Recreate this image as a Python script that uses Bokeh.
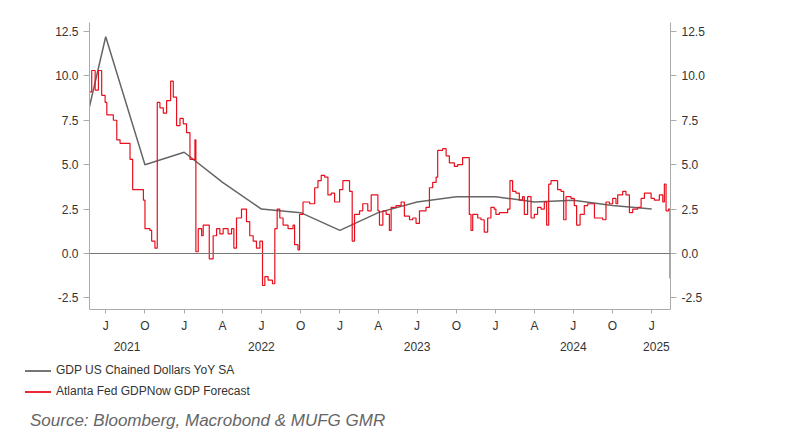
import pandas as pd
from bokeh.plotting import figure
from bokeh.layouts import column
from bokeh.embed import file_html
from bokeh.resources import INLINE
from bokeh.models import (LinearAxis, DatetimeAxis, FixedTicker, Range1d,
                          Span, Div, PrintfTickFormatter)

# GDP US chained dollars YoY SA (quarterly)
gdp_dates = ["2021-04-01", "2021-07-01", "2021-10-01", "2022-01-01", "2022-04-01",
             "2022-07-01", "2022-10-01", "2023-01-01", "2023-04-01", "2023-07-01",
             "2023-10-01", "2024-01-01", "2024-04-01", "2024-07-01", "2024-10-01",
             "2025-01-01"]
gdp_yoy = [2.8, 12.2, 5.0, 5.7, 4.0, 2.5, 2.3, 1.3, 2.3, 2.9, 3.2, 3.2, 2.9, 3.0, 2.7, 2.5]

# Atlanta Fed GDPNow forecast (decimal year, value)
now_years = [
    2021.391, 2021.406, 2021.428, 2021.449, 2021.470, 2021.492, 2021.503, 2021.545,
    2021.567, 2021.588, 2021.631, 2021.652, 2021.669, 2021.716, 2021.738, 2021.748,
    2021.780, 2021.791, 2021.812, 2021.823, 2021.827, 2021.844, 2021.866, 2021.887,
    2021.913, 2021.930, 2021.951, 2021.973, 2021.994, 2022.015, 2022.037, 2022.069,
    2022.075, 2022.090, 2022.112, 2022.122, 2022.144, 2022.161, 2022.186, 2022.208,
    2022.229, 2022.250, 2022.282, 2022.304, 2022.319, 2022.336, 2022.368, 2022.400,
    2022.421, 2022.443, 2022.464, 2022.486, 2022.503, 2022.518, 2022.539, 2022.567,
    2022.582, 2022.597, 2022.614, 2022.635, 2022.667, 2022.699, 2022.709, 2022.731,
    2022.741, 2022.763, 2022.806, 2022.838, 2022.859, 2022.880, 2022.902, 2022.923,
    2022.944, 2022.966, 2022.998, 2023.019, 2023.041, 2023.062, 2023.079, 2023.094,
    2023.126, 2023.147, 2023.179, 2023.201, 2023.222, 2023.244, 2023.254, 2023.276,
    2023.297, 2023.318, 2023.329, 2023.361, 2023.393, 2023.414, 2023.447, 2023.468,
    2023.489, 2023.511, 2023.553, 2023.575, 2023.596, 2023.618, 2023.628, 2023.660,
    2023.682, 2023.703, 2023.735, 2023.756, 2023.788, 2023.821, 2023.831, 2023.842,
    2023.853, 2023.885, 2023.906, 2023.927, 2023.949, 2023.970, 2023.991, 2024.002,
    2024.024, 2024.045, 2024.077, 2024.092, 2024.109, 2024.130, 2024.152, 2024.173,
    2024.184, 2024.205, 2024.227, 2024.248, 2024.269, 2024.291, 2024.312, 2024.327,
    2024.340, 2024.355, 2024.376, 2024.397, 2024.419, 2024.436, 2024.451, 2024.483,
    2024.504, 2024.519, 2024.541, 2024.568, 2024.590, 2024.611, 2024.633, 2024.665,
    2024.686, 2024.707, 2024.729, 2024.750, 2024.771, 2024.782, 2024.814, 2024.835,
    2024.857, 2024.878, 2024.910, 2024.932, 2024.953, 2024.974, 2024.996, 2025.017,
    2025.049, 2025.071, 2025.081, 2025.092, 2025.108, 2025.118]
now_vals = [
    9.1, 10.3, 9.2, 10.3, 8.9, 8.5, 7.8, 7.5,
    6.4, 6.2, 6.2, 5.3, 3.6, 3.6, 3.0, 1.4,
    1.3, 0.7, 0.3, 0.3, 8.5, 8.2, 7.9, 8.6,
    9.7, 8.8, 7.2, 7.6, 7.3, 6.8, 5.3, 6.4,
    0.1, 1.4, 1.0, 1.6, 1.6, -0.3, 1.0, 1.4,
    1.1, 1.4, 1.1, 1.4, 0.3, 2.0, 2.5, 1.8,
    1.0, 0.7, 0.3, 0.7, -1.8, -1.3, -1.5, -1.7,
    1.4, 2.5, 2.0, 1.6, 1.4, 1.6, 0.5, 0.2,
    2.2, 2.9, 2.8, 3.7, 4.1, 4.4, 4.3, 3.3,
    3.4, 2.9, 3.6, 4.1, 4.1, 3.5, 0.7, 2.2,
    2.4, 2.8, 2.4, 3.3, 3.3, 2.4, 1.6, 2.4,
    2.2, 1.3, 2.6, 2.7, 2.9, 2.1, 1.9, 2.0,
    1.7, 2.4, 2.6, 3.7, 4.0, 4.3, 5.8, 5.9,
    5.5, 5.1, 4.9, 5.0, 5.4, 5.4, 2.2, 1.3,
    2.2, 2.0, 1.9, 1.2, 2.0, 2.6, 2.5, 2.2,
    2.3, 2.3, 2.5, 4.1, 3.5, 3.4, 3.0, 3.2,
    2.2, 3.2, 2.0, 2.2, 2.6, 2.5, 2.9, 1.6,
    3.9, 4.1, 4.1, 3.6, 3.5, 1.9, 3.2, 3.1,
    2.7, 1.6, 2.2, 2.7, 2.8, 2.8, 2.0, 2.0,
    1.9, 2.9, 2.8, 3.1, 2.8, 3.3, 3.5, 3.3,
    2.3, 2.5, 2.6, 3.1, 3.4, 3.4, 3.1, 3.0,
    3.3, 2.9, 3.9, 2.4, 2.5, -1.4]

quarter_ticks = ["2021-07-01", "2021-10-01", "2022-01-01", "2022-04-01", "2022-07-01",
                 "2022-10-01", "2023-01-01", "2023-04-01", "2023-07-01", "2023-10-01",
                 "2024-01-01", "2024-04-01", "2024-07-01", "2024-10-01", "2025-01-01"]
quarter_labels = ["J", "O", "J", "A", "J", "O", "J", "A", "J", "O", "J", "A", "J", "O", "J"]
year_ticks = ["2021-08-20", "2022-07-01", "2023-07-01", "2024-07-01", "2025-01-12"]
year_labels = ["2021", "2022", "2023", "2024", "2025"]
y_ticks = [-2.5, 0.0, 2.5, 5.0, 7.5, 10.0, 12.5]
series_names = ["GDP US Chained Dollars YoY SA", "Atlanta Fed GDPNow GDP Forecast"]
series_colors = ["#666666", "#e8101e"]


def to_date(y):
    yr = int(y)
    start = pd.Timestamp(year=yr, month=1, day=1)
    end = pd.Timestamp(year=yr + 1, month=1, day=1)
    return start + (end - start) * (y - yr)


def ms(d):
    return pd.Timestamp(d).value / 1e6


gdp_x = [pd.Timestamp(d) for d in gdp_dates]
now_x = [to_date(y) for y in now_years]

FONT = "Liberation Sans"
TXT = "#333333"
AX = "#aaaaaa"

p = figure(width=784, height=355, x_axis_type=None, y_axis_location=None,
           x_range=Range1d(pd.Timestamp("2021-05-24"), pd.Timestamp("2025-02-14")),
           y_range=Range1d(-3.15, 13.0),
           output_backend="svg", toolbar_location=None,
           min_border_left=89, min_border_right=114, min_border_top=22,
           min_border_bottom=46)
p.outline_line_color = None
p.xgrid.visible = False
p.ygrid.visible = False

p.add_layout(Span(location=0, dimension="width", line_color="#777777", line_width=1.2))

p.line(gdp_x, gdp_yoy, line_color=series_colors[0], line_width=1.5)
p.step(now_x, now_vals, mode="after", line_color=series_colors[1], line_width=1.2)

for side in ("left", "right"):
    ax = LinearAxis(ticker=FixedTicker(ticks=y_ticks),
                    formatter=PrintfTickFormatter(format="%.1f"))
    ax.axis_line_color = AX
    ax.major_tick_line_color = AX
    ax.major_tick_out = 6
    ax.major_tick_in = 0
    ax.minor_tick_line_color = None
    ax.major_label_text_font = FONT
    ax.major_label_text_font_size = "12px"
    ax.major_label_text_color = TXT
    p.add_layout(ax, side)

qax = DatetimeAxis(ticker=FixedTicker(ticks=[ms(d) for d in quarter_ticks]))
qax.major_label_overrides = {ms(d): l for d, l in zip(quarter_ticks, quarter_labels)}
qax.axis_line_color = AX
qax.major_tick_line_color = AX
qax.major_tick_out = 4
qax.major_tick_in = 0
qax.minor_tick_line_color = None
qax.major_label_text_font = FONT
qax.major_label_text_font_size = "12px"
qax.major_label_text_color = TXT
qax.major_label_standoff = 5
p.add_layout(qax, "below")

yax = DatetimeAxis(ticker=FixedTicker(ticks=[ms(d) for d in year_ticks]))
yax.major_label_overrides = {ms(d): l for d, l in zip(year_ticks, year_labels)}
yax.axis_line_color = None
yax.major_tick_line_color = None
yax.minor_tick_line_color = None
yax.major_label_text_font = FONT
yax.major_label_text_font_size = "12px"
yax.major_label_text_color = TXT
yax.major_label_standoff = 0
p.add_layout(yax, "below")

rows = "".join(
    f'<div style="display:flex;align-items:center;height:21px">'
    f'<svg width="31" height="4" style="margin-right:0px">'
    f'<line x1="0" y1="2" x2="26" y2="2" stroke="{c}" stroke-width="1.8"/></svg>'
    f'<span>{n}</span></div>'
    for n, c in zip(series_names, series_colors))
legend_div = Div(text=rows, width=400, height=42,
                 styles={"font-family": FONT, "font-size": "12px", "color": TXT,
                         "margin-left": "25px"})

src = Div(text="Source: Bloomberg, Macrobond &amp; MUFG GMR", width=700, height=30,
          styles={"font-family": FONT, "font-size": "17px", "font-style": "italic",
                  "color": "#666666", "margin-left": "30px", "margin-top": "2px"})

open("out.html", "w").write(file_html(column(p, legend_div, src, spacing=0), INLINE))
